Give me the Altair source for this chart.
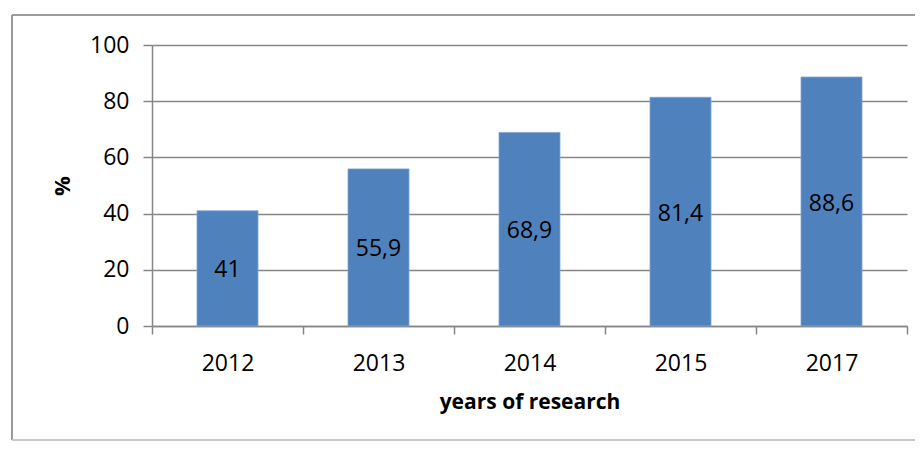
import altair as alt
import pandas as pd

years = ["2012", "2013", "2014", "2015", "2017"]
values = [41, 55.9, 68.9, 81.4, 88.6]
labels = ["41", "55,9", "68,9", "81,4", "88,6"]
y_ticks = [0, 20, 40, 60, 80, 100]

df = pd.DataFrame({"year": years, "value": values, "label": labels})

FONT = "Open Sans"
GRID = "#868686"
FRAME = "#9a9a9a"

base = alt.Chart(df)

x_enc = alt.X(
    "year:N",
    sort=years,
    scale=alt.Scale(paddingInner=0, paddingOuter=0),
    axis=alt.Axis(
        title="years of research",
        labelAngle=0,
        labelFontSize=23,
        labelColor="#000000",
        labelPadding=18,
        titleFontSize=21,
        titleFontWeight="bold",
        titleColor="#000000",
        titlePadding=16,
        tickBand="extent",
        tickSize=8,
        tickColor=GRID,
        tickWidth=1.5,
        domainColor=GRID,
        domainWidth=1.5,
        grid=False,
    ),
)

y_enc = alt.Y(
    "value:Q",
    scale=alt.Scale(domain=[0, 100], nice=False),
    axis=alt.Axis(
        title="%",
        values=y_ticks,
        labelFontSize=23,
        labelColor="#000000",
        labelPadding=14,
        titleFontSize=22,
        titleFontWeight="bold",
        titleColor="#000000",
        titlePadding=15,
        tickSize=9,
        tickColor=GRID,
        tickWidth=1.5,
        domainColor=GRID,
        domainWidth=1.5,
        gridColor=GRID,
        gridWidth=1.5,
    ),
)

bars = base.mark_bar(size=61, color="#4F81BD", stroke="#7FA3D3", strokeWidth=0.8).encode(
    x=x_enc, y=y_enc
)

text = base.transform_calculate(mid="datum.value / 2").mark_text(
    font=FONT, fontSize=23, color="#000000", baseline="middle", dy=2
).encode(
    x=alt.X("year:N", sort=years),
    y=alt.Y("mid:Q"),
    text="label:N",
)

frame_top = alt.Chart(df).mark_rule(stroke=FRAME, strokeWidth=1.2, clip=False).encode(
    x=alt.value(-140), x2=alt.value(763), y=alt.value(-30)
)
frame_left = alt.Chart(df).mark_rule(stroke=FRAME, strokeWidth=1.2, clip=False).encode(
    x=alt.value(-140), y=alt.value(-30), y2=alt.value(395)
)
frame_bottom = alt.Chart(df).mark_rule(stroke="#c8c8c8", strokeWidth=1.2, clip=False).encode(
    x=alt.value(-140), x2=alt.value(763), y=alt.value(395)
)

chart = alt.layer(frame_top, frame_left, frame_bottom, bars, text).properties(
    width=755,
    height=281,
    autosize=alt.AutoSizeParams(type="none"),
    padding={"left": 144, "top": 37, "right": 8, "bottom": 115},
).configure(font=FONT).configure_view(stroke=None)

chart.save("out.html", embed_options={"renderer": "svg", "actions": False})
